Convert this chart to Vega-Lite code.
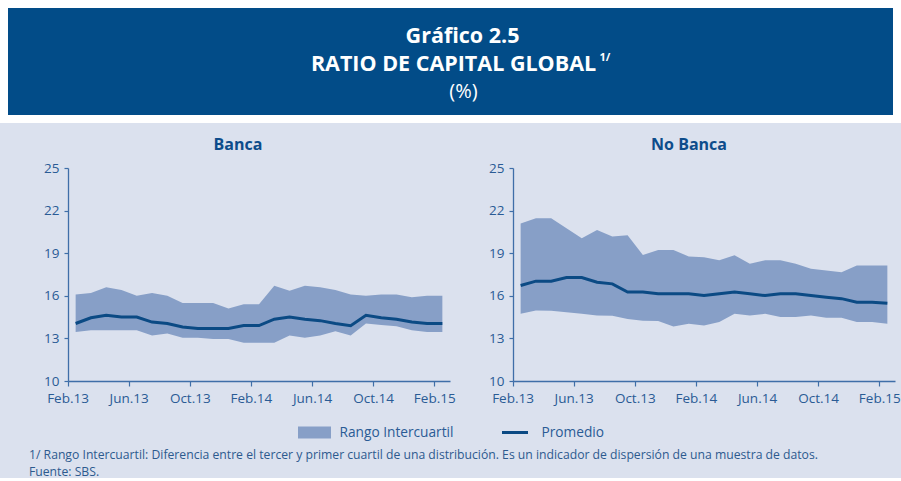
{
  "$schema": "https://vega.github.io/schema/vega-lite/v6.json",
  "background": "#dbe1ee",
  "padding": 0,
  "config": {
    "font": "Open Sans",
    "view": {"stroke": null},
    "axis": {"domainColor": "#3f6ea8", "tickColor": "#3f6ea8", "labelColor": "#2a5b95", "labelFont": "Open Sans", "labelFontSize": 13.5, "grid": false, "title": null, "domainWidth": 1.3, "tickWidth": 1.2},
    "legend": {"labelFont": "Open Sans", "labelFontSize": 13.7, "labelColor": "#2a5b95", "padding": 0, "title": null}
  },
  "datasets": {
    "series": [
      {"panel": "Banca", "mes": "Feb.13", "p25": 13.45, "p75": 16.1, "prom": 14.05},
      {"panel": "Banca", "mes": "Mar.13", "p25": 13.57, "p75": 16.2, "prom": 14.45},
      {"panel": "Banca", "mes": "Abr.13", "p25": 13.57, "p75": 16.6, "prom": 14.63},
      {"panel": "Banca", "mes": "May.13", "p25": 13.57, "p75": 16.4, "prom": 14.5},
      {"panel": "Banca", "mes": "Jun.13", "p25": 13.57, "p75": 16.0, "prom": 14.5},
      {"panel": "Banca", "mes": "Jul.13", "p25": 13.2, "p75": 16.2, "prom": 14.15},
      {"panel": "Banca", "mes": "Ago.13", "p25": 13.35, "p75": 16.0, "prom": 14.05},
      {"panel": "Banca", "mes": "Set.13", "p25": 13.05, "p75": 15.5, "prom": 13.8},
      {"panel": "Banca", "mes": "Oct.13", "p25": 13.05, "p75": 15.5, "prom": 13.7},
      {"panel": "Banca", "mes": "Nov.13", "p25": 12.95, "p75": 15.5, "prom": 13.7},
      {"panel": "Banca", "mes": "Dic.13", "p25": 12.95, "p75": 15.1, "prom": 13.7},
      {"panel": "Banca", "mes": "Ene.14", "p25": 12.7, "p75": 15.4, "prom": 13.9},
      {"panel": "Banca", "mes": "Feb.14", "p25": 12.7, "p75": 15.4, "prom": 13.9},
      {"panel": "Banca", "mes": "Mar.14", "p25": 12.7, "p75": 16.7, "prom": 14.35},
      {"panel": "Banca", "mes": "Abr.14", "p25": 13.2, "p75": 16.35, "prom": 14.5},
      {"panel": "Banca", "mes": "May.14", "p25": 13.05, "p75": 16.7, "prom": 14.35},
      {"panel": "Banca", "mes": "Jun.14", "p25": 13.2, "p75": 16.6, "prom": 14.25},
      {"panel": "Banca", "mes": "Jul.14", "p25": 13.5, "p75": 16.4, "prom": 14.05},
      {"panel": "Banca", "mes": "Ago.14", "p25": 13.2, "p75": 16.1, "prom": 13.9},
      {"panel": "Banca", "mes": "Set.14", "p25": 14.05, "p75": 16.0, "prom": 14.63},
      {"panel": "Banca", "mes": "Oct.14", "p25": 13.95, "p75": 16.1, "prom": 14.45},
      {"panel": "Banca", "mes": "Nov.14", "p25": 13.85, "p75": 16.1, "prom": 14.35},
      {"panel": "Banca", "mes": "Dic.14", "p25": 13.57, "p75": 15.9, "prom": 14.15},
      {"panel": "Banca", "mes": "Ene.15", "p25": 13.45, "p75": 16.0, "prom": 14.05},
      {"panel": "Banca", "mes": "Feb.15", "p25": 13.45, "p75": 16.0, "prom": 14.05},
      {"panel": "No Banca", "mes": "Feb.13", "p25": 14.73, "p75": 21.1, "prom": 16.73},
      {"panel": "No Banca", "mes": "Mar.13", "p25": 14.97, "p75": 21.46, "prom": 17.03},
      {"panel": "No Banca", "mes": "Abr.13", "p25": 14.95, "p75": 21.46, "prom": 17.03},
      {"panel": "No Banca", "mes": "May.13", "p25": 14.85, "p75": 20.76, "prom": 17.29},
      {"panel": "No Banca", "mes": "Jun.13", "p25": 14.73, "p75": 20.05, "prom": 17.29},
      {"panel": "No Banca", "mes": "Jul.13", "p25": 14.62, "p75": 20.64, "prom": 16.96},
      {"panel": "No Banca", "mes": "Ago.13", "p25": 14.6, "p75": 20.17, "prom": 16.84},
      {"panel": "No Banca", "mes": "Set.13", "p25": 14.36, "p75": 20.26, "prom": 16.26},
      {"panel": "No Banca", "mes": "Oct.13", "p25": 14.24, "p75": 18.88, "prom": 16.26},
      {"panel": "No Banca", "mes": "Nov.13", "p25": 14.22, "p75": 19.23, "prom": 16.14},
      {"panel": "No Banca", "mes": "Dic.13", "p25": 13.84, "p75": 19.23, "prom": 16.14},
      {"panel": "No Banca", "mes": "Ene.14", "p25": 14.03, "p75": 18.77, "prom": 16.14},
      {"panel": "No Banca", "mes": "Feb.14", "p25": 13.91, "p75": 18.72, "prom": 16.02},
      {"panel": "No Banca", "mes": "Mar.14", "p25": 14.15, "p75": 18.5, "prom": 16.14},
      {"panel": "No Banca", "mes": "Abr.14", "p25": 14.73, "p75": 18.86, "prom": 16.26},
      {"panel": "No Banca", "mes": "May.14", "p25": 14.62, "p75": 18.25, "prom": 16.14},
      {"panel": "No Banca", "mes": "Jun.14", "p25": 14.73, "p75": 18.5, "prom": 16.02},
      {"panel": "No Banca", "mes": "Jul.14", "p25": 14.5, "p75": 18.5, "prom": 16.14},
      {"panel": "No Banca", "mes": "Ago.14", "p25": 14.5, "p75": 18.25, "prom": 16.14},
      {"panel": "No Banca", "mes": "Set.14", "p25": 14.62, "p75": 17.9, "prom": 16.02},
      {"panel": "No Banca", "mes": "Oct.14", "p25": 14.45, "p75": 17.78, "prom": 15.9},
      {"panel": "No Banca", "mes": "Nov.14", "p25": 14.45, "p75": 17.66, "prom": 15.8},
      {"panel": "No Banca", "mes": "Dic.14", "p25": 14.15, "p75": 18.13, "prom": 15.55},
      {"panel": "No Banca", "mes": "Ene.15", "p25": 14.15, "p75": 18.13, "prom": 15.55},
      {"panel": "No Banca", "mes": "Feb.15", "p25": 14.03, "p75": 18.13, "prom": 15.48}
    ]
  },
  "title": {
    "text": ["1/ Rango Intercuartil: Diferencia entre el tercer y primer cuartil de una distribución. Es un indicador de dispersión de una muestra de datos.", "Fuente: SBS."],
    "orient": "bottom", "anchor": "start", "frame": "group",
    "fontSize": 12.2, "fontWeight": "normal", "color": "#2d5a8e", "lineHeight": 16.5, "offset": 9, "dx": 25
  },
  "columns": 1,
  "align": "none",
  "spacing": 14,
  "concat": [
    {
      "width": 893,
      "height": 115,
      "view": {"fill": "#024c88", "stroke": "white", "strokeWidth": 8},
      "data": {"values": [
        {"linea": 1, "texto": "Gráfico 2.5"},
        {"linea": 2, "texto": "RATIO DE CAPITAL GLOBAL"},
        {"linea": 3, "texto": "(%)"}
      ]},
      "encoding": {
        "y": {"field": "linea", "type": "ordinal", "axis": null, "scale": {"type": "point", "padding": 1.2}}
      },
      "layer": [
        {"transform": [{"filter": "datum.linea == 1"}], "mark": {"type": "text", "fontWeight": "bold", "fontSize": 21.5, "color": "white", "dx": 12, "dy": 4}, "encoding": {"text": {"field": "texto"}}},
        {"transform": [{"filter": "datum.linea == 2"}], "mark": {"type": "text", "fontWeight": "bold", "fontSize": 21.5, "color": "white", "dx": 3, "dy": 3}, "encoding": {"text": {"field": "texto"}}},
        {"transform": [{"filter": "datum.linea == 3"}], "mark": {"type": "text", "fontWeight": "normal", "fontSize": 20, "color": "white", "dx": 13, "dy": 2}, "encoding": {"text": {"field": "texto"}}},
        {"transform": [{"filter": "datum.linea == 2"}], "mark": {"type": "text", "text": "1/", "fontWeight": "bold", "fontSize": 11, "color": "white", "align": "left", "dx": 149, "dy": -4}}
      ]
    },
    {
      "spacing": 63,
      "bounds": "flush",
      "resolve": {"scale": {"fill": "independent", "stroke": "independent", "y": "independent", "x": "independent"}},
      "hconcat": [
        {
          "width": 0.01,
          "height": 213,
          "data": {"values": []},
          "mark": {"type": "point"}
        },
        {
          "width": 382,
          "height": 213,
          "data": {"name": "series"},
          "transform": [{"filter": "datum.panel === 'Banca'"}],
          "title": {"text": "Banca", "fontSize": 16, "fontWeight": "bold", "color": "#0d4c8b", "offset": 8, "dx": -21},
          "encoding": {
            "x": {"field": "mes", "type": "ordinal", "sort": null, "bandPosition": 0.5,
                  "scale": {"type": "band", "paddingInner": 0, "paddingOuter": 0},
                  "axis": {"values": ["Feb.13", "Jun.13", "Oct.13", "Feb.14", "Jun.14", "Oct.14", "Feb.15"], "labelAngle": 0, "bandPosition": 0, "labelOffset": -7.6, "labelPadding": 5, "tickSize": 5}}
          },
          "layer": [
            {
              "mark": {"type": "area", "opacity": 1},
              "encoding": {
                "y": {"field": "p25", "type": "quantitative", "scale": {"domain": [10, 25], "nice": false, "zero": false},
                      "axis": {"values": [10, 13, 16, 19, 22, 25], "labelPadding": 5, "tickSize": 4, "minExtent": 30}},
                "y2": {"field": "p75"},
                "fill": {"datum": "Rango Intercuartil", "scale": {"range": ["#879fc7"]},
                         "legend": {"orient": "none", "legendX": 230, "legendY": 248, "symbolType": "M-1,-0.36H1V0.36H-1Z", "symbolSize": 1089, "symbolStrokeWidth": 0, "symbolOpacity": 1, "labelOffset": 8.5}}
              }
            },
            {
              "mark": {"type": "line", "strokeWidth": 3},
              "encoding": {
                "y": {"field": "prom", "type": "quantitative"},
                "stroke": {"datum": "Promedio", "scale": {"range": ["#0b4a84"]},
                           "legend": {"orient": "none", "legendX": 432.5, "legendY": 250, "symbolType": "stroke", "symbolSize": 676, "symbolStrokeWidth": 3, "symbolOpacity": 1, "labelOffset": 12}}
              }
            }
          ]
        },
        {
          "width": 382,
          "height": 213,
          "data": {"name": "series"},
          "transform": [{"filter": "datum.panel === 'No Banca'"}],
          "title": {"text": "No Banca", "fontSize": 16, "fontWeight": "bold", "color": "#0d4c8b", "offset": 8, "dx": -15},
          "encoding": {
            "x": {"field": "mes", "type": "ordinal", "sort": null, "bandPosition": 0.5,
                  "scale": {"type": "band", "paddingInner": 0, "paddingOuter": 0},
                  "axis": {"values": ["Feb.13", "Jun.13", "Oct.13", "Feb.14", "Jun.14", "Oct.14", "Feb.15"], "labelAngle": 0, "bandPosition": 0, "labelOffset": -7.6, "labelPadding": 5, "tickSize": 5}}
          },
          "layer": [
            {
              "mark": {"type": "area", "opacity": 1},
              "encoding": {
                "y": {"field": "p25", "type": "quantitative", "scale": {"domain": [10, 25], "nice": false, "zero": false},
                      "axis": {"values": [10, 13, 16, 19, 22, 25], "labelPadding": 5, "tickSize": 4, "minExtent": 30}},
                "y2": {"field": "p75"},
                "fill": {"datum": "Rango Intercuartil", "scale": {"range": ["#879fc7"]}, "legend": null}
              }
            },
            {
              "mark": {"type": "line", "strokeWidth": 3},
              "encoding": {
                "y": {"field": "prom", "type": "quantitative"},
                "stroke": {"datum": "Promedio", "scale": {"range": ["#0b4a84"]}, "legend": null}
              }
            }
          ]
        }
      ]
    }
  ]
}
